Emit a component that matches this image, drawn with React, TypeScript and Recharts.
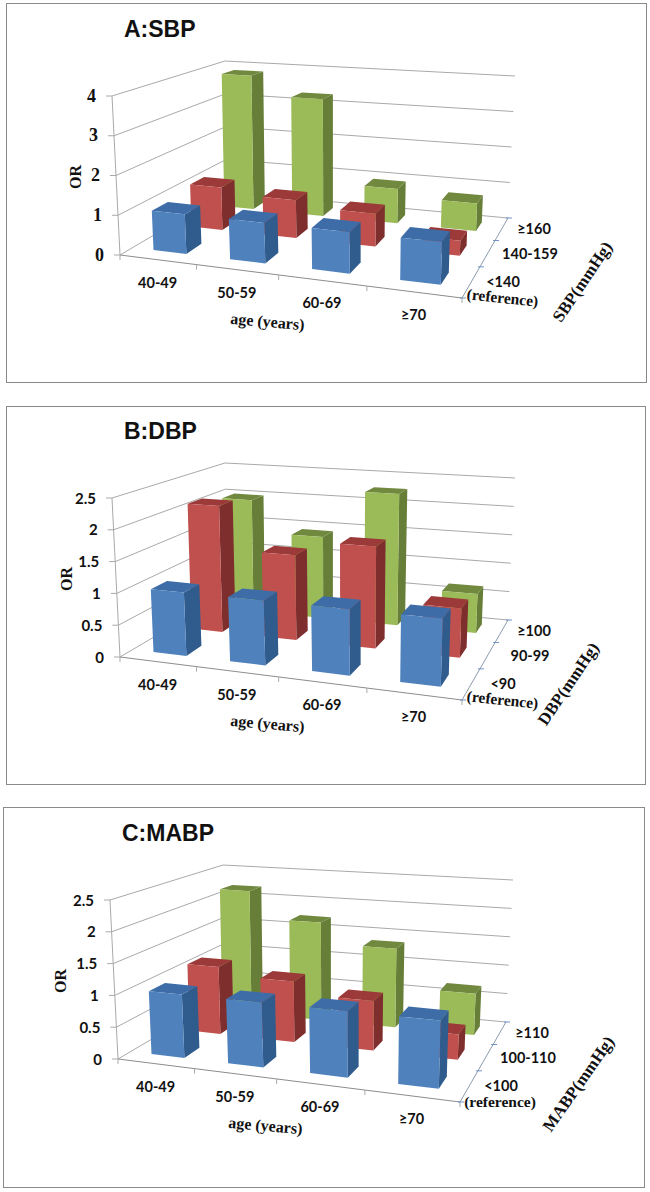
import React from 'react';
import { BarChart, Bar, XAxis, YAxis, CartesianGrid } from 'recharts';

const ageGroups = ['40-49', '50-59', '60-69', '≥70'];

const sbpReference = [1, 1, 1, 1];
const sbpMiddle = [1.15, 1.0, 0.85, 0.38];
const sbpHigh = [3.85, 3.3, 0.95, 0.75];
const sbpTicks = [0, 1, 2, 3, 4];

const dbpReference = [1, 1, 1, 1];
const dbpMiddle = [2.13, 1.4, 1.65, 0.78];
const dbpHigh = [2.0, 1.43, 2.27, 0.66];
const dbpTicks = [0, 0.5, 1, 1.5, 2, 2.5];

const mabpReference = [1, 1, 1, 1];
const mabpMiddle = [1.13, 1.0, 0.8, 0.4];
const mabpHigh = [2.2, 1.72, 1.36, 0.7];

const W = 650;
const H = 380;
// axes need 1px of room or recharts drops their ticks
const PLOT_W = W - 1;
const PLOT_H = H - 1;
const SERIF = '"Liberation Serif", serif';
const SANS = 'Lato, sans-serif';

type Pt = [number, number];

// the 3d view: floor and top plane of the box, in chart pixels
const FLOOR: Pt[] = [[120, 255], [462, 298], [508, 218], [227, 192]];
const ROOF: Pt[] = [[112, 96], [468, 122], [515, 76], [225, 61]];

// square to quad perspective map
function homography(q: Pt[]) {
  const [[x0, y0], [x1, y1], [x2, y2], [x3, y3]] = q;
  const dx1 = x1 - x2, dx2 = x3 - x2, sx = x0 - x1 + x2 - x3;
  const dy1 = y1 - y2, dy2 = y3 - y2, sy = y0 - y1 + y2 - y3;
  const den = dx1 * dy2 - dx2 * dy1;
  const g = (sx * dy2 - dx2 * sy) / den;
  const h = (dx1 * sy - sx * dy1) / den;
  return (u: number, v: number): Pt => {
    const w = g * u + h * v + 1;
    return [
      ((x1 - x0 + g * x1) * u + (x3 - x0 + h * x3) * v + x0) / w,
      ((y1 - y0 + g * y1) * u + (y3 - y0 + h * y3) * v + y0) / w,
    ];
  };
}
const floorMap = homography(FLOOR);
const roofMap = homography(ROOF);

function project(u: number, v: number, h: number): Pt {
  const a = floorMap(u, v);
  const b = roofMap(u, v);
  return [a[0] + (b[0] - a[0]) * h, a[1] + (b[1] - a[1]) * h];
}

const toU = (x: number) => (x - 1) / PLOT_W;
const toH = (y: number) => (PLOT_H - y) / PLOT_H;

const pts = (list: Pt[]) => list.map((p) => `${p[0].toFixed(1)},${p[1].toFixed(1)}`).join(' ');

const GRID = '#a9a9a9';

// excel style depth rows, gap 150
const ROWS: [number, number][] = [[0.1, 0.233], [0.433, 0.567], [0.767, 0.9]];

const blue = { front: '#4f81bd', top: '#3d6ca6', side: '#2f5b8d' };
const red = { front: '#c0504d', top: '#9b3a38', side: '#7e2f2d' };
const green = { front: '#9bbb59', top: '#71893f', side: '#667e38' };

const Box3D = ({ x, y, width, row, colors }: any) => {
  const u0 = toU(x);
  const u1 = toU(x + width);
  const h = toH(y);
  const [v0, v1] = ROWS[row];
  return (
    <g>
      <polygon points={pts([project(u1, v0, 0), project(u1, v1, 0), project(u1, v1, h), project(u1, v0, h)])} fill={colors.side} />
      <polygon points={pts([project(u0, v0, h), project(u1, v0, h), project(u1, v1, h), project(u0, v1, h)])} fill={colors.top} />
      <polygon points={pts([project(u0, v0, 0), project(u1, v0, 0), project(u1, v0, h), project(u0, v0, h)])} fill={colors.front} />
    </g>
  );
};

const Seg = ({ a, b, c = GRID }: { a: Pt; b: Pt; c?: string }) => (
  <line x1={a[0]} y1={a[1]} x2={b[0]} y2={b[1]} stroke={c} strokeWidth={1} />
);

// walls at one level, plus floor edges and axis lines at level 0
const WallLine = ({ y1 }: any) => {
  const h = toH(y1);
  const fl = project(0, 0, h);
  const bl = project(0, 1, h);
  const br = project(1, 1, h);
  const base = h < 0.001;
  return (
    <g>
      <polyline points={pts([fl, bl, br])} fill="none" stroke={GRID} strokeWidth={1} />
      <Seg a={[fl[0] - 6, fl[1]]} b={fl} />
      {base && (
        <g>
          <Seg a={project(0, 0, 0)} b={project(1, 0, 0)} c="#8c8c8c" />
          <Seg a={project(0, 0, 0)} b={project(0, 0, 1)} />
          <Seg a={project(1, 0, 0)} b={project(1, 1, 0)} c="#8c9bb0" />
          {[0, 0.25, 0.5, 0.75, 1].map((u) => {
            const p = project(u, 0, 0);
            return <Seg key={u} a={p} b={[p[0], p[1] + 5]} />;
          })}
          {[0, 1 / 3, 2 / 3, 1].map((v) => {
            const p = project(1, v, 0);
            return <Seg key={v} a={[p[0] - 2, p[1]]} b={[p[0] + 4, p[1]]} c="#6f94c4" />;
          })}
        </g>
      )}
    </g>
  );
};

const AgeTick = ({ x, payload }: any) => {
  const p = project(toU(x), 0, 0);
  return (
    <text x={p[0]} y={p[1] + 28} textAnchor="middle" fontFamily={SANS} fontWeight={700} fontSize={14.5} fill="#111">
      {payload.value}
    </text>
  );
};

const ValueTick = ({ y, payload, font, size }: any) => {
  const p = project(0, 0, toH(y));
  return (
    <text x={p[0] - 16} y={p[1] + 5.5} textAnchor="end" fontFamily={font} fontWeight={700} fontSize={size} fill="#111">
      {payload.value}
    </text>
  );
};

const SerifText = ({ x, y, angle = 0, size = 16, children }: any) => (
  <text
    x={x}
    y={y}
    textAnchor="middle"
    fontFamily={SERIF}
    fontWeight={700}
    fontSize={size}
    fill="#111"
    transform={angle ? `rotate(${angle} ${x} ${y})` : undefined}
  >
    {children}
  </text>
);

const DepthLabel = ({ x, y, children }: any) => (
  <text x={x} y={y} textAnchor="middle" fontFamily={SANS} fontWeight={700} fontSize={14.5} fill="#111">
    {children}
  </text>
);

interface PanelProps {
  left: number;
  top: number;
  boxLeft: number;
  boxTop: number;
  boxRight: number;
  boxBottom: number;
  title: string;
  reference: number[];
  middle: number[];
  high: number[];
  ticks: number[];
  tickFont: string;
  tickSize: number;
  depthLabels: string[];
  refAngle: number;
  depthTitle: string;
  depthTitlePos: [number, number, number];
  orX: number;
}

const Panel = (p: PanelProps) => {
  const rows = ageGroups.map((age, i) => ({
    age,
    reference: p.reference[i],
    middle: p.middle[i],
    high: p.high[i],
  }));
  const max = p.ticks[p.ticks.length - 1];
  return (
    <>
      <div
        style={{
          position: 'absolute',
          left: p.boxLeft,
          top: p.boxTop,
          width: p.boxRight - p.boxLeft,
          height: p.boxBottom - p.boxTop,
          border: '1.5px solid #8a8a8a',
          boxSizing: 'border-box',
          background: 'white',
        }}
      />
      <div style={{ position: 'absolute', left: p.left, top: p.top }}>
        <BarChart
          width={W}
          height={H}
          data={rows}
          barCategoryGap="28%"
          margin={{ top: 0, right: 0, left: 0, bottom: 0 }}
        >
          <CartesianGrid xAxisId="front" vertical={false} horizontal={(props: any) => <WallLine key={props.y1} y1={props.y1} />} />
          <XAxis xAxisId="front" dataKey="age" height={1} axisLine={false} tickLine={false} interval={0} tick={<AgeTick />} />
          <XAxis xAxisId="mid" dataKey="age" hide />
          <XAxis xAxisId="back" dataKey="age" hide />
          <YAxis
            width={1}
            domain={[0, max]}
            ticks={p.ticks}
            interval={0}
            axisLine={false}
            tickLine={false}
            tick={<ValueTick font={p.tickFont} size={p.tickSize} />}
          />
          <Bar xAxisId="back" dataKey="high" isAnimationActive={false} shape={(s: any) => <Box3D {...s} row={2} colors={green} />} />
          <Bar xAxisId="mid" dataKey="middle" isAnimationActive={false} shape={(s: any) => <Box3D {...s} row={1} colors={red} />} />
          <Bar xAxisId="front" dataKey="reference" isAnimationActive={false} shape={(s: any) => <Box3D {...s} row={0} colors={blue} />} />
          <text x={124} y={37} fontFamily='"Liberation Sans", sans-serif' fontWeight={700} fontSize={23} fill="#111">
            {p.title}
          </text>
          <SerifText x={p.orX} y={177} angle={-90} size={16}>OR</SerifText>
          <SerifText x={267} y={327} angle={5} size={16}>age (years)</SerifText>
          <DepthLabel x={534} y={234}>{p.depthLabels[2]}</DepthLabel>
          <DepthLabel x={530} y={259}>{p.depthLabels[1]}</DepthLabel>
          <DepthLabel x={503} y={287}>{p.depthLabels[0]}</DepthLabel>
          <SerifText x={502} y={303} angle={p.refAngle} size={15.5}>(reference)</SerifText>
          <SerifText x={p.depthTitlePos[0]} y={p.depthTitlePos[1]} angle={p.depthTitlePos[2]} size={17}>
            {p.depthTitle}
          </SerifText>
        </BarChart>
      </div>
    </>
  );
};

export default function App() {
  return (
    <div style={{ position: 'absolute', left: 0, top: 0, width: 650, height: 1192, overflow: 'hidden', background: 'white' }}>
      <Panel
        left={0}
        top={0}
        boxLeft={6}
        boxTop={3}
        boxRight={647}
        boxBottom={383}
        title="A:SBP"
        reference={sbpReference}
        middle={sbpMiddle}
        high={sbpHigh}
        ticks={sbpTicks}
        tickFont={SERIF}
        tickSize={18}
        depthLabels={['<140', '140-159', '≥160']}
        refAngle={6}
        depthTitle="SBP(mmHg)"
        depthTitlePos={[587, 285, -56]}
        orX={81}
      />
      <Panel
        left={0}
        top={402}
        boxLeft={6}
        boxTop={406}
        boxRight={646}
        boxBottom={785}
        title="B:DBP"
        reference={dbpReference}
        middle={dbpMiddle}
        high={dbpHigh}
        ticks={dbpTicks}
        tickFont={SANS}
        tickSize={15}
        depthLabels={['<90', '90-99', '≥100']}
        refAngle={6}
        depthTitle="DBP(mmHg)"
        depthTitlePos={[573, 285, -56]}
        orX={72}
      />
      <Panel
        left={-2}
        top={804}
        boxLeft={3}
        boxTop={807}
        boxRight={645}
        boxBottom={1188}
        title="C:MABP"
        reference={mabpReference}
        middle={mabpMiddle}
        high={mabpHigh}
        ticks={dbpTicks}
        tickFont={SANS}
        tickSize={15}
        depthLabels={['<100', '100-110', '≥110']}
        refAngle={0}
        depthTitle="MABP(mmHg)"
        depthTitlePos={[585, 283, -55]}
        orX={68}
      />
    </div>
  );
}
